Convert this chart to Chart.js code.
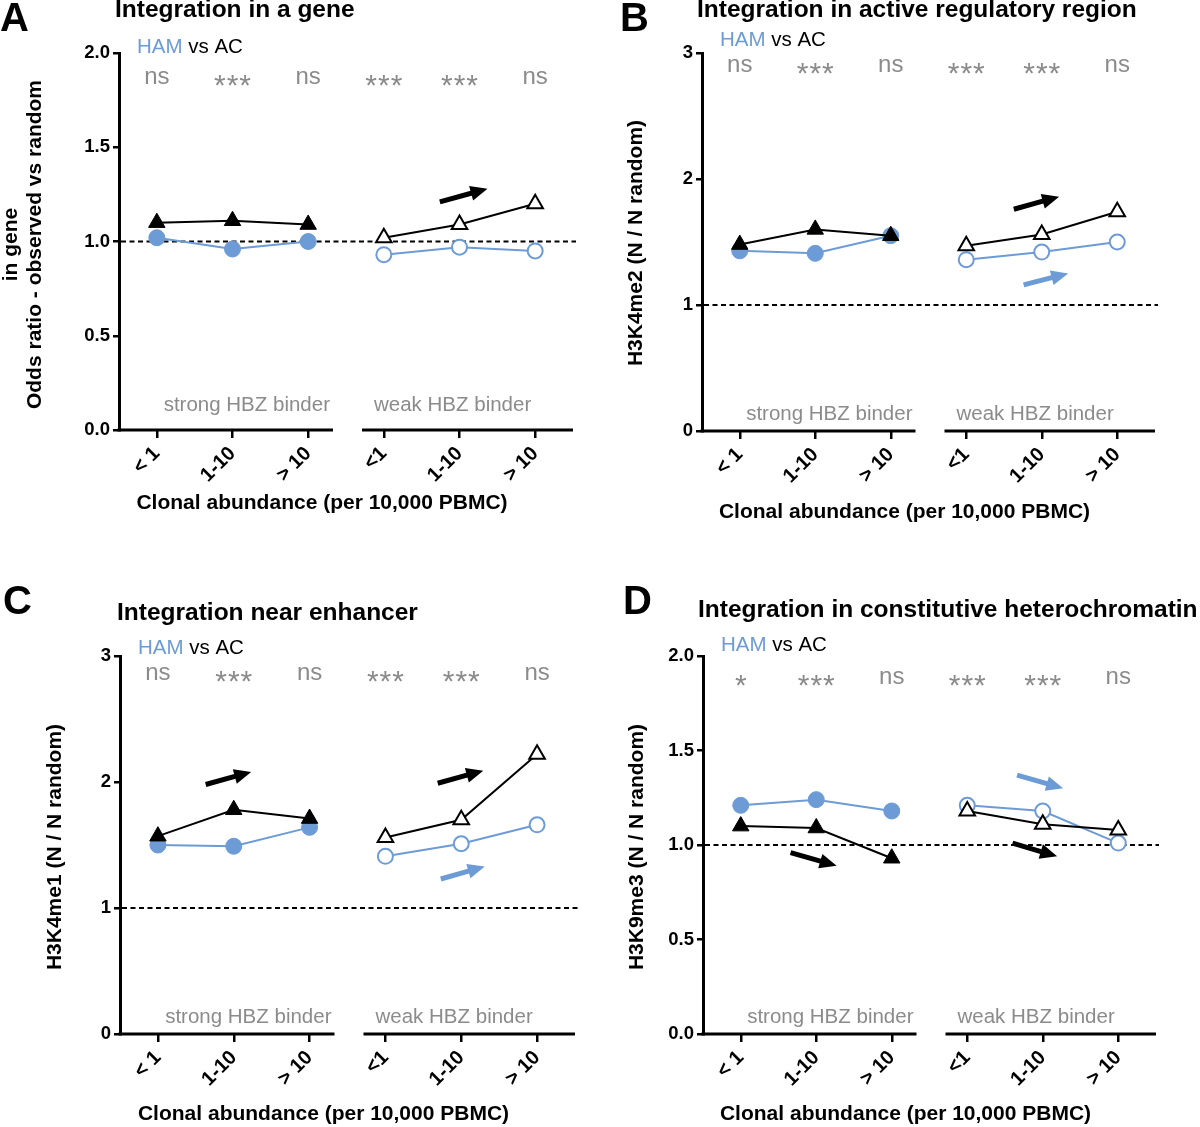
<!DOCTYPE html>
<html>
<head>
<meta charset="utf-8">
<script src="https://cdn.jsdelivr.net/npm/chart.js@4.4.1/dist/chart.umd.min.js"></script>
<style>
  html, body { margin: 0; padding: 0; background: #fff; }
  #fig { position: relative; width: 1200px; height: 1127px; overflow: hidden; }
  #fig canvas { position: absolute; }
</style>
</head>
<body>
<div id="fig">
  <canvas id="chartA" width="600" height="563" style="left:0;top:0"></canvas>
  <canvas id="chartB" width="600" height="563" style="left:600px;top:0"></canvas>
  <canvas id="chartC" width="600" height="564" style="left:0;top:563px"></canvas>
  <canvas id="chartD" width="600" height="564" style="left:600px;top:563px"></canvas>
</div>
<script>
// categories (clonal abundance), strong HBZ binder first, weak HBZ binder after
const categories = ['< 1', '1-10', '> 10', '<1', '1-10', '> 10'];

// A - integration in a gene (odds ratio)
const acStrongA  = [1.10, 1.11, 1.09];
const hamStrongA = [1.02, 0.96, 1.00];
const acWeakA    = [1.02, 1.09, 1.20];
const hamWeakA   = [0.93, 0.97, 0.95];
const sigA = ['ns', '***', 'ns', '***', '***', 'ns'];

// B - H3K4me2
const acStrongB  = [1.48, 1.60, 1.55];
const hamStrongB = [1.43, 1.41, 1.55];
const acWeakB    = [1.47, 1.56, 1.74];
const hamWeakB   = [1.36, 1.42, 1.50];
const sigB = ['ns', '***', 'ns', '***', '***', 'ns'];

// C - H3K4me1
const acStrongC  = [1.57, 1.78, 1.71];
const hamStrongC = [1.50, 1.49, 1.64];
const acWeakC    = [1.56, 1.70, 2.22];
const hamWeakC   = [1.41, 1.51, 1.66];
const sigC = ['ns', '***', 'ns', '***', '***', 'ns'];

// D - H3K9me3
const hamStrongD = [1.21, 1.24, 1.18];
const acStrongD  = [1.10, 1.09, 0.93];
const hamWeakD   = [1.21, 1.18, 1.01];
const acWeakD    = [1.18, 1.11, 1.08];
const sigD = ['*', '***', 'ns', '***', '***', 'ns'];

// trend arrows: [x0, y0, x1, y1] in category index / axis units, colour key
const arrowsA = [[3.74, 1.21, 4.37, 1.28, 'ac']];
const arrowsB = [[3.63, 1.76, 4.23, 1.86, 'ac'], [3.76, 1.16, 4.35, 1.25, 'ham']];
const arrowsC = [[0.63, 1.98, 1.23, 2.08, 'ac'], [3.69, 1.99, 4.29, 2.09, 'ac'], [3.73, 1.23, 4.31, 1.33, 'ham']];
const arrowsD = [[0.66, 0.96, 1.27, 0.89, 'ac'], [3.60, 1.01, 4.19, 0.94, 'ac'], [3.66, 1.37, 4.27, 1.30, 'ham']];

const BLUE = '#6d9bd6';
const GREY = '#8b8b8b';
const FONT = "'Liberation Sans', Arial, Helvetica, sans-serif";
const COLORS = { ac: '#000', ham: BLUE };

function strong(arr) { return [...arr, null, null, null]; }
function weak(arr) { return [null, null, null, ...arr]; }

function drawArrow(ctx, x0, y0, x1, y1, color) {
    const ang = Math.atan2(y1 - y0, x1 - x0);
    const head = 17, half = 7.5;
    const bx = x1 - head * Math.cos(ang), by = y1 - head * Math.sin(ang);
    ctx.strokeStyle = color;
    ctx.fillStyle = color;
    ctx.lineWidth = 5;
    ctx.beginPath(); ctx.moveTo(x0, y0); ctx.lineTo(bx + Math.cos(ang), by + Math.sin(ang)); ctx.stroke();
    ctx.beginPath();
    ctx.moveTo(x1, y1);
    ctx.lineTo(bx + half * Math.sin(ang), by - half * Math.cos(ang));
    ctx.lineTo(bx - half * Math.sin(ang), by + half * Math.cos(ang));
    ctx.closePath();
    ctx.fill();
}

// everything that is not a data mark: titles, dashed baseline, broken x axis, labels
function decorPlugin(p) {
    return {
        id: 'decor',
        beforeDatasetsDraw(chart) {
            const { ctx, chartArea: a, scales: { y } } = chart;
            const yy = y.getPixelForValue(1);
            ctx.save();
            ctx.strokeStyle = '#000';
            ctx.lineWidth = 2;
            ctx.setLineDash([5, 3.5]);
            ctx.beginPath(); ctx.moveTo(a.left + 2, yy); ctx.lineTo(a.right + 3, yy); ctx.stroke();
            ctx.restore();
        },
        afterDraw(chart) {
            const { ctx, chartArea: a, scales: { x, y } } = chart;
            ctx.save();

            // broken x axis
            const brk = x.getPixelForValue(2.5);
            ctx.strokeStyle = '#000';
            ctx.lineWidth = 3;
            ctx.beginPath();
            ctx.moveTo(a.left - 1.5, a.bottom); ctx.lineTo(brk - 13, a.bottom);
            ctx.moveTo(brk + 16, a.bottom); ctx.lineTo(a.right, a.bottom);
            ctx.stroke();

            // panel letter + title
            ctx.fillStyle = '#000';
            ctx.textBaseline = 'middle';
            ctx.textAlign = 'left';
            ctx.font = `bold 40px ${FONT}`;
            ctx.fillText(p.letter, p.letterPos[0], p.letterPos[1]);
            ctx.font = `bold 24.5px ${FONT}`;
            ctx.fillText(p.title, p.titlePos[0], p.titlePos[1]);

            // HAM vs AC
            ctx.font = `20.5px ${FONT}`;
            const lx = a.left + 18, ly = a.top + p.legendDy;
            ctx.fillStyle = BLUE;
            ctx.fillText('HAM', lx, ly);
            const w = ctx.measureText('HAM ').width;
            ctx.fillStyle = '#000';
            ctx.fillText('vs AC', lx + w, ly);

            // significance
            ctx.fillStyle = GREY;
            ctx.textAlign = 'center';
            ctx.textBaseline = 'alphabetic';
            p.sig.forEach((s, i) => {
                const sx = x.getPixelForValue(i);
                const base = a.top + p.sigDy + 7;
                if (s.startsWith('*')) {
                    ctx.font = `30px ${FONT}`;
                    ctx.letterSpacing = '1px';
                    ctx.fillText(s, sx + 0.5, base + 11);
                    ctx.letterSpacing = '0px';
                } else {
                    ctx.font = `24px ${FONT}`;
                    ctx.fillText(s, sx, base);
                }
            });

            // group labels
            ctx.font = `20.5px ${FONT}`;
            ctx.textBaseline = 'middle';
            ctx.textAlign = 'right';
            ctx.fillText('strong HBZ binder', brk - 16, a.bottom - p.groupDy);
            ctx.textAlign = 'left';
            ctx.fillText('weak HBZ binder', brk + 28, a.bottom - p.groupDy);

            // x title
            ctx.fillStyle = '#000';
            ctx.font = `bold 21px ${FONT}`;
            ctx.textAlign = 'center';
            ctx.fillText('Clonal abundance (per 10,000 PBMC)', (a.left + a.right) / 2 - 24, a.bottom + p.xTitleDy);

            // y title
            ctx.save();
            ctx.translate(p.yTitleX, (a.top + a.bottom) / 2 + p.yTitleShift);
            ctx.rotate(-Math.PI / 2);
            p.yTitle.forEach((t, i) => ctx.fillText(t, 0, i * 24));
            ctx.restore();

            // trend arrows
            p.arrows.forEach(([x0, y0, x1, y1, k]) => {
                drawArrow(ctx, x.getPixelForValue(x0), y.getPixelForValue(y0),
                               x.getPixelForValue(x1), y.getPixelForValue(y1), COLORS[k]);
            });
            ctx.restore();
        }
    };
}

function makeChart(p) {
    const H = document.getElementById(p.id).height;
    const a = p.area;
    const xH = 80;
    const datasets = [
        { data: strong(p.acStrong), borderColor: '#000', borderWidth: 2, pointStyle: 'triangle', pointRadius: 9.5,
          pointBackgroundColor: '#000', pointBorderColor: '#000', pointBorderWidth: 1 },
        { data: weak(p.acWeak), borderColor: '#000', borderWidth: 2, pointStyle: 'triangle', pointRadius: 9,
          pointBackgroundColor: '#fff', pointBorderColor: '#000', pointBorderWidth: 2 },
        { data: strong(p.hamStrong), borderColor: BLUE, borderWidth: 2, pointStyle: 'circle', pointRadius: 8,
          pointBackgroundColor: BLUE, pointBorderColor: BLUE, pointBorderWidth: 1 },
        { data: weak(p.hamWeak), borderColor: BLUE, borderWidth: 2, pointStyle: 'circle', pointRadius: 7.5,
          pointBackgroundColor: '#fff', pointBorderColor: BLUE, pointBorderWidth: 2 }
    ];
    return new Chart(document.getElementById(p.id), {
        type: 'line',
        data: { labels: categories, datasets },
        options: {
            responsive: false,
            animation: false,
            events: [],
            spanGaps: false,
            elements: { line: { tension: 0 } },
            layout: { padding: { left: 0, top: a.top, right: 600 - a.right, bottom: H - a.bottom - xH } },
            plugins: { legend: { display: false }, tooltip: { enabled: false } },
            scales: {
                x: {
                    type: 'category',
                    offset: true,
                    afterFit: s => { s.height = xH; },
                    border: { display: false },
                    grid: { display: true, drawOnChartArea: false, offset: false, color: '#000', lineWidth: 2.5, tickLength: 8 },
                    ticks: { color: '#000', font: { family: FONT, size: 20, weight: 'bold' }, minRotation: 45, maxRotation: 45, padding: 4, autoSkip: false }
                },
                y: {
                    min: 0, max: p.yMax,
                    afterFit: s => { s.width = a.left; },
                    border: { display: true, color: '#000', width: 3 },
                    grid: { drawOnChartArea: false, color: '#000', lineWidth: 2.5, tickLength: 6 },
                    ticks: {
                        stepSize: p.yStep, color: '#000', padding: 3,
                        font: { family: FONT, size: 18.5, weight: 'bold' },
                        callback: v => v.toFixed(p.decimals)
                    }
                }
            }
        },
        plugins: [decorPlugin(p)]
    });
}

makeChart({
    id: 'chartA', area: { left: 119, top: 53, right: 573, bottom: 430 }, yMax: 2, yStep: 0.5, decimals: 1,
    acStrong: acStrongA, hamStrong: hamStrongA, acWeak: acWeakA, hamWeak: hamWeakA, sig: sigA, arrows: arrowsA,
    letter: 'A', letterPos: [0, 20], title: 'Integration in a gene', titlePos: [115, 10],
    yTitle: ['in gene', 'Odds ratio - observed vs random'], yTitleX: 11, yTitleShift: 3,
    legendDy: -6, sigDy: 24, groupDy: 25, xTitleDy: 73
});
makeChart({
    id: 'chartB', area: { left: 102, top: 53, right: 555, bottom: 431 }, yMax: 3, yStep: 1, decimals: 0,
    acStrong: acStrongB, hamStrong: hamStrongB, acWeak: acWeakB, hamWeak: hamWeakB, sig: sigB, arrows: arrowsB,
    letter: 'B', letterPos: [20, 20], title: 'Integration in active regulatory region', titlePos: [97, 10],
    yTitle: ['H3K4me2 (N / N random)'], yTitleX: 36, yTitleShift: 1,
    legendDy: -13, sigDy: 12, groupDy: 17, xTitleDy: 81
});
makeChart({
    id: 'chartC', area: { left: 120, top: 93, right: 575, bottom: 471 }, yMax: 3, yStep: 1, decimals: 0,
    acStrong: acStrongC, hamStrong: hamStrongC, acWeak: acWeakC, hamWeak: hamWeakC, sig: sigC, arrows: arrowsC,
    letter: 'C', letterPos: [3, 40], title: 'Integration near enhancer', titlePos: [117, 50],
    yTitle: ['H3K4me1 (N / N random)'], yTitleX: 55, yTitleShift: 2,
    legendDy: -8, sigDy: 17, groupDy: 17, xTitleDy: 80
});
makeChart({
    id: 'chartD', area: { left: 103, top: 93, right: 556, bottom: 471 }, yMax: 2, yStep: 0.5, decimals: 1,
    acStrong: acStrongD, hamStrong: hamStrongD, acWeak: acWeakD, hamWeak: hamWeakD, sig: sigD, arrows: arrowsD,
    letter: 'D', letterPos: [23, 40], title: 'Integration in constitutive heterochromatin', titlePos: [98, 47],
    yTitle: ['H3K9me3 (N / N random)'], yTitleX: 37, yTitleShift: 2,
    legendDy: -11, sigDy: 21, groupDy: 17, xTitleDy: 80
});
</script>
</body>
</html>
